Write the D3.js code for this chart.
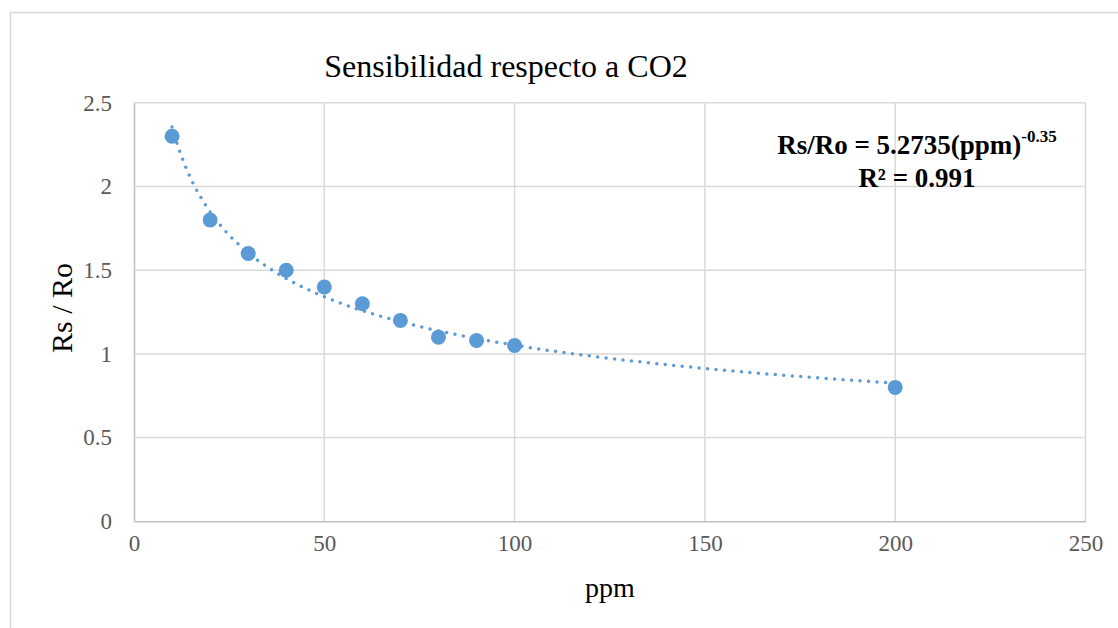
<!DOCTYPE html>
<html>
<head>
<meta charset="utf-8">
<script src="https://cdn.jsdelivr.net/npm/d3@7"></script>
<style>
  body { margin: 0; background: #fff; }
  svg { display: block; }
  svg text { font-family: "Liberation Serif", "Times New Roman", serif; }
</style>
</head>
<body>
<div id="chart"></div>
<script>
// measured points
var ppm = [10, 20, 30, 40, 50, 60, 70, 80, 90, 100, 200];
var rsRo = [2.3, 1.8, 1.6, 1.5, 1.4, 1.3, 1.2, 1.1, 1.08, 1.05, 0.8];

var xTicks = [0, 50, 100, 150, 200, 250];
var yTicks = [0, 0.5, 1, 1.5, 2, 2.5];

// power trendline shown on the chart
var fitA = 5.2735, fitB = -0.35;
var fitR2 = "0.991";

var W = 1118, H = 628;
var margin = { top: 102.8, right: 32.5, bottom: 106.7, left: 134 };
var serif = "'Liberation Serif', 'Times New Roman', serif";

var svg = d3.select("#chart").append("svg")
    .attr("width", W)
    .attr("height", H)
    .attr("font-family", serif);

// chart frame
svg.append("rect")
    .attr("x", 10.5).attr("y", 12.5)
    .attr("width", W + 20).attr("height", H + 20)
    .attr("fill", "none")
    .attr("stroke", "#d9d9d9")
    .attr("stroke-width", 1.5);

var x = d3.scaleLinear().domain([0, 250]).range([margin.left, W - margin.right]);
var y = d3.scaleLinear().domain([0, 2.5]).range([H - margin.bottom, margin.top]);

// grid
svg.append("g")
    .selectAll("line.v")
    .data(xTicks.slice(1))
    .enter().append("line")
    .attr("x1", d => x(d)).attr("x2", d => x(d))
    .attr("y1", y(0)).attr("y2", y(2.5))
    .attr("stroke", "#d9d9d9").attr("stroke-width", 1.5);

svg.append("g")
    .selectAll("line.h")
    .data(yTicks.slice(1))
    .enter().append("line")
    .attr("x1", x(0)).attr("x2", x(250))
    .attr("y1", d => y(d)).attr("y2", d => y(d))
    .attr("stroke", "#d9d9d9").attr("stroke-width", 1.5);

// axes
var xAxis = svg.append("g")
    .attr("transform", "translate(0," + y(0) + ")")
    .call(d3.axisBottom(x).tickValues(xTicks).tickSize(0).tickPadding(13));
var yAxis = svg.append("g")
    .attr("transform", "translate(" + x(0) + ",0)")
    .call(d3.axisLeft(y).tickValues(yTicks).tickSize(0).tickPadding(22).tickFormat(d3.format("")));

[xAxis, yAxis].forEach(function (g) {
    g.attr("font-family", serif).attr("font-size", 23);
    g.select(".domain").attr("stroke", "#bfbfbf").attr("stroke-width", 1.5);
    g.selectAll("text").attr("fill", "#595959");
});

// trendline
var fitX = d3.range(10, 200.01, 1);
var line = d3.line()
    .x(d => x(d))
    .y(d => y(fitA * Math.pow(d, fitB)));

svg.append("path")
    .datum(fitX)
    .attr("d", line)
    .attr("fill", "none")
    .attr("stroke", "#5b9bd5")
    .attr("stroke-width", 3.5)
    .attr("stroke-linecap", "round")
    .attr("stroke-dasharray", "0 8.5");

// points
svg.append("g")
    .selectAll("circle")
    .data(ppm)
    .enter().append("circle")
    .attr("cx", d => x(d))
    .attr("cy", (d, i) => y(rsRo[i]))
    .attr("r", 7.5)
    .attr("fill", "#5b9bd5");

// title
svg.append("text")
    .attr("x", 506).attr("y", 77)
    .attr("text-anchor", "middle")
    .attr("font-size", 32)
    .attr("fill", "#000")
    .text("Sensibilidad respecto a CO2");

// axis titles
svg.append("text")
    .attr("transform", "translate(72,308) rotate(-90)")
    .attr("text-anchor", "middle")
    .attr("font-size", 30)
    .text("Rs / Ro");

svg.append("text")
    .attr("x", 610).attr("y", 597)
    .attr("text-anchor", "middle")
    .attr("font-size", 28)
    .text("ppm");

// equation label
var eq = svg.append("text")
    .attr("x", 917).attr("y", 154)
    .attr("text-anchor", "middle")
    .attr("font-size", 27)
    .attr("font-weight", "bold");
eq.append("tspan").text("Rs/Ro = " + fitA + "(ppm)");
eq.append("tspan")
    .attr("dy", -12)
    .attr("font-size", 17)
    .text(fitB.toString());

svg.append("text")
    .attr("x", 917).attr("y", 187)
    .attr("text-anchor", "middle")
    .attr("font-size", 27)
    .attr("font-weight", "bold")
    .text("R² = " + fitR2);
</script>
</body>
</html>
